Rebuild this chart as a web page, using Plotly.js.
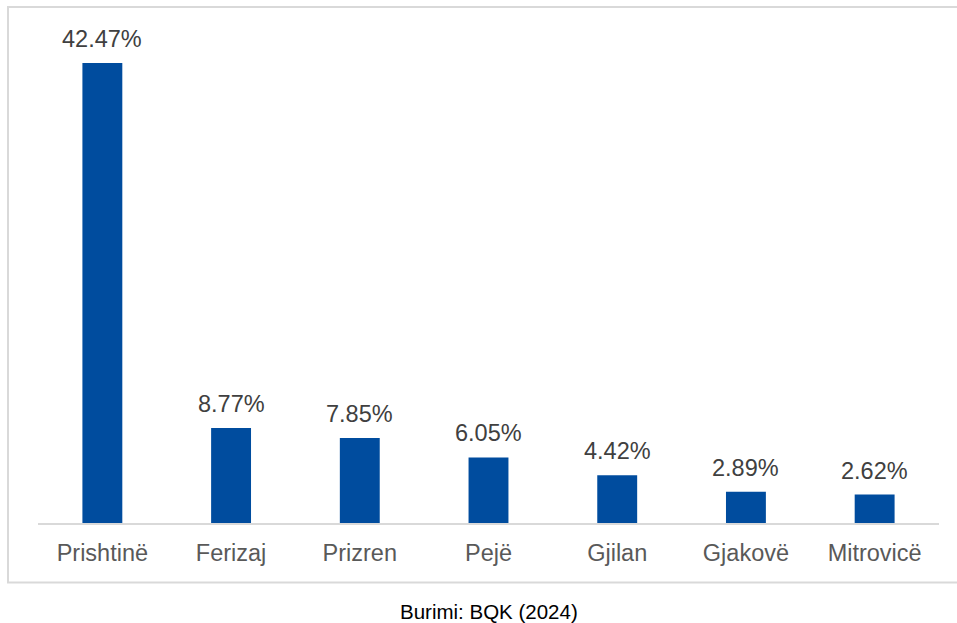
<!DOCTYPE html>
<html>
<head>
<meta charset="utf-8">
<script src="https://cdn.plot.ly/plotly-3.0.1.min.js"></script>
<style>html,body{margin:0;padding:0;background:#fff;}</style>
</head>
<body>
<div id="chart" style="width:957px;height:623px;"></div>
<script>
const categories = ["Prishtinë", "Ferizaj", "Prizren", "Pejë", "Gjilan", "Gjakovë", "Mitrovicë"];
const values = [42.47, 8.77, 7.85, 6.05, 4.42, 2.89, 2.62];
const valueLabels = ["42.47%", "8.77%", "7.85%", "6.05%", "4.42%", "2.89%", "2.62%"];
const sourceText = "Burimi: BQK (2024)";

const FONT = "Liberation Sans, Arial, sans-serif";

const trace = {
  type: "bar",
  x: categories,
  y: values,
  marker: {color: "#004C9E", line: {width: 0}},
  hoverinfo: "none"
};

const annotations = categories.map((c, i) => ({
  x: c, y: values[i], xref: "x", yref: "y",
  text: valueLabels[i], showarrow: false,
  yanchor: "bottom", yshift: 9,
  font: {family: FONT, size: 23.5, color: "#404040"}
}));
annotations.push({
  x: 0.5, y: -0.175, xref: "paper", yref: "paper",
  text: sourceText, showarrow: false,
  xanchor: "center", yanchor: "middle",
  font: {family: FONT, size: 20.5, color: "#000000"}
});

const layout = {
  width: 957, height: 623,
  margin: {l: 38, r: 18, t: 20, b: 100},
  paper_bgcolor: "#ffffff", plot_bgcolor: "#ffffff",
  bargap: 0.69,
  showlegend: false,
  font: {family: FONT},
  xaxis: {
    showline: true, linecolor: "#d9d9d9", linewidth: 2,
    ticks: "", showgrid: false, zeroline: false,
    tickfont: {family: FONT, size: 23.5, color: "#595959"},
    ticklabelstandoff: 8
  },
  yaxis: {
    range: [0, 46.44], visible: false, showgrid: false, zeroline: false
  },
  annotations: annotations,
  shapes: [{
    type: "rect", xref: "paper", yref: "paper",
    x0: -0.0333, x1: 1.03, y0: -0.1183, y1: 1.0258,
    line: {color: "#d9d9d9", width: 2}, fillcolor: "rgba(0,0,0,0)", layer: "below"
  }]
};

Plotly.newPlot("chart", [trace], layout, {displayModeBar: false, staticPlot: true});
</script>
</body>
</html>
